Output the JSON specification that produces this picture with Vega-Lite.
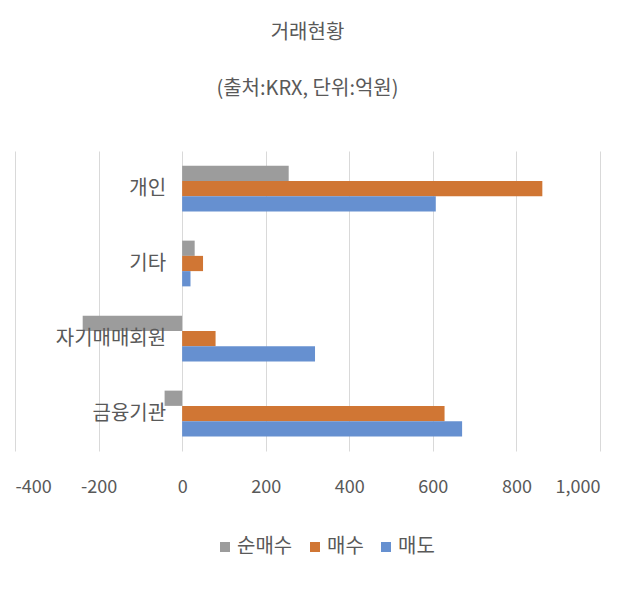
{
  "$schema": "https://vega.github.io/schema/vega-lite/v6.json",
  "width": 585,
  "height": 300,
  "autosize": {"type": "none"},
  "padding": {"left": 15, "top": 151, "right": 39, "bottom": 139},
  "background": "white",
  "config": {
    "font": "Noto Sans CJK KR",
    "view": {"stroke": null}
  },
  "title": {
    "text": "거래현황",
    "subtitle": "(출처:KRX, 단위:억원)",
    "anchor": "middle",
    "fontSize": 20,
    "fontWeight": "normal",
    "color": "#595959",
    "subtitleFontSize": 20,
    "subtitleColor": "#595959",
    "subtitlePadding": 36,
    "offset": 52
  },
  "data": {
    "values": [
      {"category": "개인", "series": "순매수", "value": 255},
      {"category": "개인", "series": "매수", "value": 862},
      {"category": "개인", "series": "매도", "value": 607},
      {"category": "기타", "series": "순매수", "value": 30},
      {"category": "기타", "series": "매수", "value": 50},
      {"category": "기타", "series": "매도", "value": 20},
      {"category": "자기매매회원", "series": "순매수", "value": -238},
      {"category": "자기매매회원", "series": "매수", "value": 80},
      {"category": "자기매매회원", "series": "매도", "value": 318},
      {"category": "금융기관", "series": "순매수", "value": -42},
      {"category": "금융기관", "series": "매수", "value": 628},
      {"category": "금융기관", "series": "매도", "value": 670}
    ]
  },
  "encoding": {
    "y": {
      "field": "category",
      "type": "nominal",
      "sort": ["개인", "기타", "자기매매회원", "금융기관"],
      "scale": {"paddingInner": 0.39, "paddingOuter": 0.195},
      "axis": null
    }
  },
  "layer": [
    {
      "mark": {"type": "bar"},
      "encoding": {
        "x": {
          "field": "value",
          "type": "quantitative",
          "scale": {"domain": [-400, 1000], "nice": false},
          "axis": {
            "title": null,
            "values": [-400, -200, 0, 200, 400, 600, 800, 1000],
            "labelExpr": "replace(format(datum.value, ',d'), '\u2212', '-')",
            "domain": false,
            "ticks": false,
            "grid": true,
            "gridColor": "#d9d9d9",
            "gridWidth": 1,
            "labelFontSize": 18,
            "labelColor": "#595959",
            "labelPadding": 27
          }
        },
        "yOffset": {
          "field": "series",
          "type": "nominal",
          "sort": ["순매수", "매수", "매도"],
          "scale": {"paddingInner": 0, "paddingOuter": 0}
        },
        "color": {
          "field": "series",
          "type": "nominal",
          "sort": ["순매수", "매수", "매도"],
          "scale": {
            "domain": ["순매수", "매수", "매도"],
            "range": ["#9c9c9c", "#d07634", "#6690d0"]
          },
          "legend": {
            "title": null,
            "orient": "none",
            "legendX": 200,
            "legendY": 386,
            "direction": "horizontal",
            "symbolType": "square",
            "symbolSize": 100,
            "symbolOpacity": 1,
            "labelFontSize": 20,
            "labelColor": "#595959",
            "labelOffset": 2,
            "columnPadding": 12
          }
        }
      }
    },
    {
      "mark": {
        "type": "text",
        "align": "right",
        "baseline": "middle",
        "dx": -16,
        "fontSize": 20,
        "color": "#595959"
      },
      "encoding": {
        "x": {"datum": 0, "type": "quantitative"},
        "text": {"field": "category"}
      },
      "transform": [{"filter": "datum.series === '매수'"}]
    }
  ]
}
